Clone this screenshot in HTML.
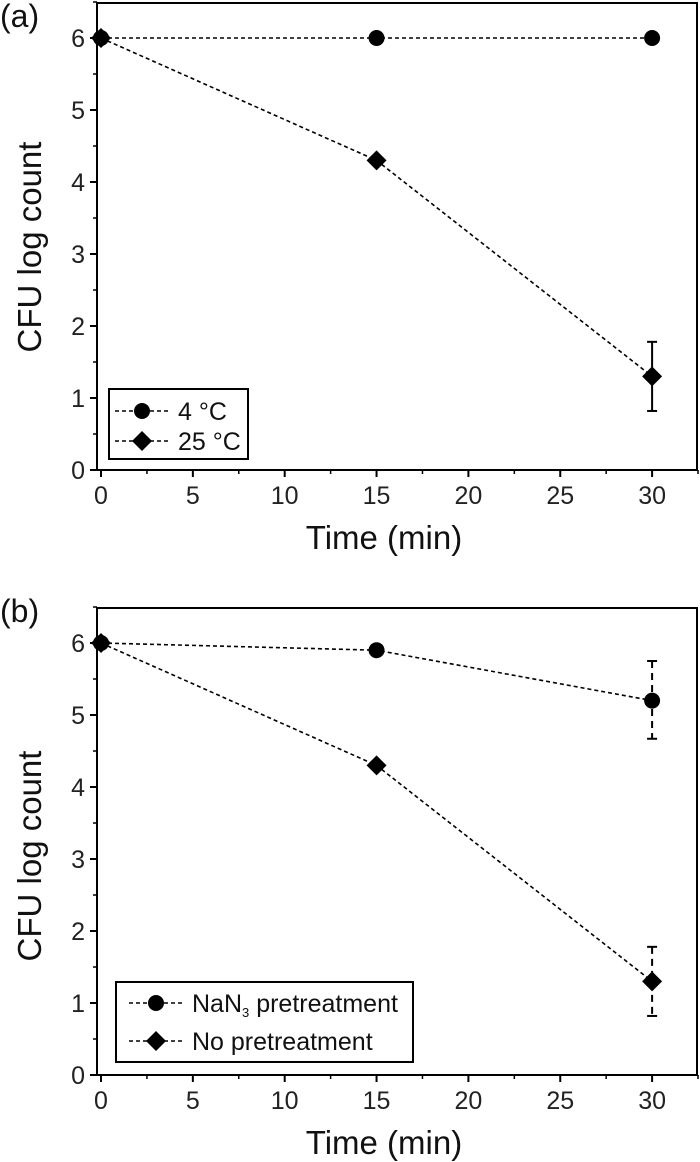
<!DOCTYPE html>
<html><head><meta charset="utf-8"><style>
html,body{margin:0;padding:0;background:#fff;}
svg{display:block;font-family:"Liberation Sans",Arial,sans-serif;}
</style></head><body>
<svg id="fig" width="700" height="1162" viewBox="0 0 700 1162" xmlns="http://www.w3.org/2000/svg"></svg>
<script>
const times = [0, 15, 30];
const xTicks = [0, 5, 10, 15, 20, 25, 30];
const yTicks = [0, 1, 2, 3, 4, 5, 6];
// panel a
const aCold = [6, 6, 6];
const aColdErr = [0.07, 0.07, 0.07];
const aWarm = [6, 4.3, 1.3];
const aWarmErrUp = [0, 0, 0.48];
const aWarmErrDn = [0, 0, 0.48];
// panel b
const bNaN3 = [6, 5.9, 5.2];
const bNaN3ErrUp = [0, 0, 0.55];
const bNaN3ErrDn = [0, 0, 0.53];
const bNone = [6, 4.3, 1.3];
const bNoneErrUp = [0, 0, 0.48];
const bNoneErrDn = [0, 0, 0.48];

const NS = "http://www.w3.org/2000/svg";
const svg = document.getElementById('fig');
function mk(tag, attrs, parent, txt) {
  const e = document.createElementNS(NS, tag);
  for (const k in attrs) e.setAttribute(k, attrs[k]);
  if (txt !== undefined) e.textContent = txt;
  (parent || svg).appendChild(e);
  return e;
}
function circleMarker(g, cx, cy) {
  const c = mk('circle', {cx: cx, cy: cy, r: 8, fill: '#000'}, g);
  
  
}
function diamondMarker(g, cx, cy) {
  const p = mk('polygon', {points: `${cx},${cy-10} ${cx+10},${cy} ${cx},${cy+10} ${cx-10},${cy}`, fill: '#000'}, g);
  
  
}

function panel(opt) {
  const g = mk('g', {});
  
  
  const L = 97, R = 697, T = opt.top, B = opt.bottom;
  const x0 = 101, xs = 18.37;
  const X = v => x0 + v * xs;
  const Y = v => B - v * 72;
  // frame
  const fr = mk('rect', {x: L, y: T, width: R - L, height: B - T, fill: 'none', stroke: '#000', 'stroke-width': 2}, g);
  
  
  // x ticks
  xTicks.forEach(t => {
    const l = mk('line', {x1: X(t), x2: X(t), y1: B, y2: B + 7, stroke: '#000', 'stroke-width': 2}, g);
    
    
    const m = mk('line', {x1: X(t + 2.5), x2: X(t + 2.5), y1: B, y2: B + 4, stroke: '#000', 'stroke-width': 1.5}, g);
    
    
    const tx = mk('text', {x: X(t), y: B + 34, 'text-anchor': 'middle', 'font-size': 25, fill: '#222'}, g, String(t));
    
    
  });
  yTicks.forEach(t => {
    const l = mk('line', {x1: L - 7, x2: L, y1: Y(t), y2: Y(t), stroke: '#000', 'stroke-width': 2}, g);
    
    
    const m = mk('line', {x1: L - 4, x2: L, y1: Y(t + 0.5), y2: Y(t + 0.5), stroke: '#000', 'stroke-width': 1.5}, g);
    
    
    const tx = mk('text', {x: L - 12, y: Y(t) + 9, 'text-anchor': 'end', 'font-size': 25, fill: '#222'}, g, String(t));
    
    
  });
  const xt = mk('text', {x: 384, y: B + 79, 'text-anchor': 'middle', 'font-size': 33, fill: '#111'}, g, 'Time (min)');
  
  
  const yt = mk('text', {x: 0, y: 0, 'text-anchor': 'middle', 'font-size': 33, fill: '#111', transform: `translate(41,${opt.ytitleY}) rotate(-90)`}, g, 'CFU log count');
  
  
  const pl = mk('text', {x: 0, y: opt.labelY, 'font-size': 32, fill: '#111'}, g, opt.label);
  
  

  opt.series.forEach(s => {
    const sg = mk('g', {}, g);
    
    
    const pts = times.map((t, i) => `${X(t)},${Y(s.vals[i])}`).join(' ');
    const pl2 = mk('polyline', {points: pts, fill: 'none', stroke: '#000', 'stroke-width': 1.6, 'stroke-dasharray': '4 3'}, sg);
    
    
    times.forEach((t, i) => {
      const up = s.up[i], dn = s.dn[i];
      if (up > 0 || dn > 0) {
        const cx = X(t);
        const attrs = {x1: cx, x2: cx, y1: Y(s.vals[i] + up), y2: Y(s.vals[i] - dn), stroke: '#000', 'stroke-width': 2};
        if (s.dashedErr) attrs['stroke-dasharray'] = '7 5';
        const e = mk('line', attrs, sg);
        
        
        [s.vals[i] + up, s.vals[i] - dn].forEach(v => {
          const c = mk('line', {x1: cx - 5, x2: cx + 5, y1: Y(v), y2: Y(v), stroke: '#000', 'stroke-width': 2}, sg);
          
          
        });
      }
      if (s.marker === 'circle') circleMarker(sg, X(t), Y(s.vals[i]));
      else diamondMarker(sg, X(t), Y(s.vals[i]));
    });
  });

  // legend
  const lg = mk('g', {}, g);
  
  
  const lb = opt.legend;
  const box = mk('rect', {x: lb.x, y: lb.y, width: lb.w, height: lb.h, fill: '#fff', stroke: '#000', 'stroke-width': 2}, lg);
  
  
  lb.entries.forEach(en => {
    const eg = mk('g', {}, lg);
    
    
    const ln = mk('line', {x1: lb.lx1, x2: lb.lx2, y1: en.y, y2: en.y, stroke: '#000', 'stroke-width': 1.6, 'stroke-dasharray': '4 3'}, eg);
    
    
    if (en.marker === 'circle') circleMarker(eg, lb.mx, en.y); else diamondMarker(eg, lb.mx, en.y);
    const t = mk('text', {x: lb.tx, y: en.y + 9, 'font-size': 25, fill: '#111'}, eg);
    
    
    if (en.sub) {
      t.appendChild(document.createTextNode('NaN'));
      const ts = mk('tspan', {'font-size': 13, dy: 5}, t, '3');
      mk('tspan', {dy: -5}, t, ' pretreatment');
    } else t.textContent = en.text;
  });
}

panel({name: 'panel-a', top: 3, bottom: 470, label: '(a)', labelY: 27, ytitleY: 247,
  series: [
    {name: 'series-4c', vals: aCold, up: aColdErr, dn: aColdErr, marker: 'circle', dashedErr: false},
    {name: 'series-25c', vals: aWarm, up: aWarmErrUp, dn: aWarmErrDn, marker: 'diamond', dashedErr: false}
  ],
  legend: {x: 109, y: 389, w: 139, h: 70, lx1: 115, lx2: 169, mx: 142, tx: 178,
    entries: [{y: 411, marker: 'circle', text: '4 °C'}, {y: 441, marker: 'diamond', text: '25 °C'}]}
});
panel({name: 'panel-b', top: 608, bottom: 1075, label: '(b)', labelY: 622, ytitleY: 856,
  series: [
    {name: 'series-nan3', vals: bNaN3, up: bNaN3ErrUp, dn: bNaN3ErrDn, marker: 'circle', dashedErr: true},
    {name: 'series-no-pretreatment', vals: bNone, up: bNoneErrUp, dn: bNoneErrDn, marker: 'diamond', dashedErr: true}
  ],
  legend: {x: 116, y: 982, w: 297, h: 80, lx1: 129, lx2: 183, mx: 156, tx: 192,
    entries: [{y: 1003, marker: 'circle', sub: true}, {y: 1041, marker: 'diamond', text: 'No pretreatment'}]}
});
</script>
</body></html>
